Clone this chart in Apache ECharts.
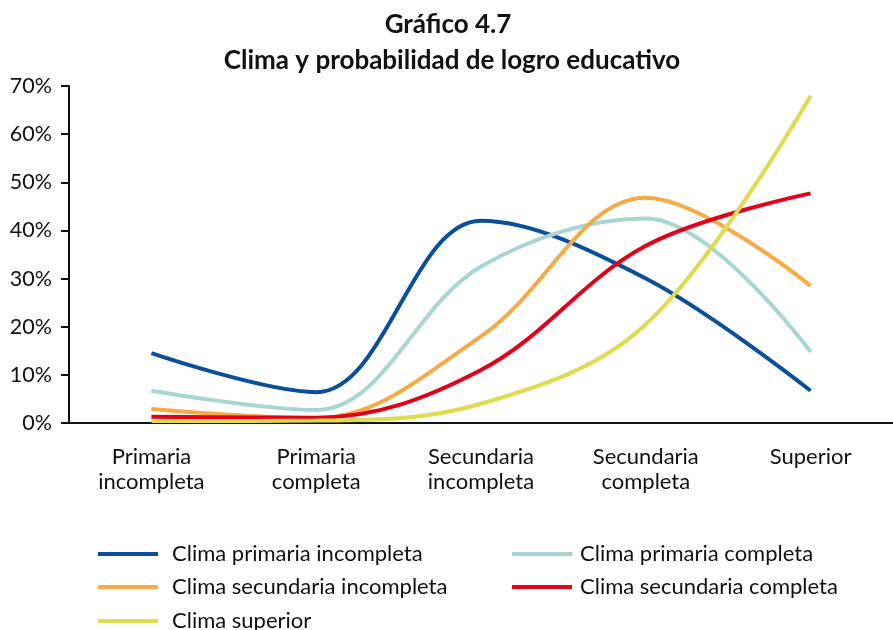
<!DOCTYPE html>
<html>
<head>
<meta charset="utf-8">
<script src="https://cdn.jsdelivr.net/npm/echarts@6/dist/echarts.min.js"></script>
<style>
  html, body { margin: 0; padding: 0; background: #fff; }
  #main { width: 893px; height: 630px; }
</style>
</head>
<body>
<div id="main"></div>
<script>
// categories on the x axis
const categories = [
  "Primaria\nincompleta",
  "Primaria\ncompleta",
  "Secundaria\nincompleta",
  "Secundaria\ncompleta",
  "Superior",
];

// probabilities, in percent
const primariaIncompleta = [14.5, 6.4, 42, 30, 6.7];
const primariaCompleta = [6.7, 2.7, 32.5, 42.5, 14.8];
const secundariaIncompleta = [2.9, 1, 18, 46.8, 28.5];
const secundariaCompleta = [1.3, 1.1, 11, 36.8, 47.7];
const superior = [0.4, 0.5, 4, 20.5, 68];

const yTicks = [0, 10, 20, 30, 40, 50, 60, 70];

const font = "Lato, 'Open Sans', sans-serif";

const chart = echarts.init(document.getElementById("main"));

function line(name, data, color) {
  return {
    name: name,
    type: "line",
    data: data,
    smooth: 0.36,
    showSymbol: false,
    symbol: "none",
    lineStyle: { width: 4, color: color },
    itemStyle: { color: color },
  };
}

// one legend block per column (and one for the last row)
function legendBlock(left, top, pad, names) {
  return {
    orient: "vertical",
    left: left,
    top: top,
    itemWidth: 60,
    itemHeight: 4,
    itemGap: 11,
    icon: "rect",
    textStyle: {
      fontFamily: font,
      fontSize: 22,
      color: "#111",
      padding: [0, 0, 0, pad],
    },
    data: names,
  };
}

const option = {
  animation: false,
  grid: {
    left: 69,
    right: -11,
    top: 86,
    bottom: 207,
  },
  legend: [
    legendBlock(93, 538, 9, ["Clima primaria incompleta", "Clima secundaria incompleta"]),
    legendBlock(93, 605, 9, ["Clima superior"]),
    legendBlock(507, 538, 3, ["Clima primaria completa", "Clima secundaria completa"]),
  ],
  xAxis: {
    type: "category",
    data: categories,
    boundaryGap: true,
    axisLine: { lineStyle: { color: "#111", width: 2 } },
    axisTick: { length: 8, lineStyle: { color: "#111", width: 2 } },
    axisLabel: {
      interval: 0,
      margin: 21,
      fontFamily: font,
      fontSize: 22,
      lineHeight: 25,
      color: "#111",
      verticalAlign: "top",
    },
    splitLine: { show: false },
  },
  yAxis: {
    type: "value",
    min: yTicks[0],
    max: yTicks[yTicks.length - 1],
    interval: 10,
    axisLine: { show: true, lineStyle: { color: "#111", width: 2 } },
    axisTick: { show: true, length: 8, lineStyle: { color: "#111", width: 2 } },
    axisLabel: {
      margin: 17,
      fontFamily: font,
      fontSize: 21.5,
      color: "#111",
      formatter: (v) => v + "%",
    },
    splitLine: { show: false },
  },
  // title, two centred lines
  graphic: [
    {
      type: "text",
      x: 448,
      y: 25,
      style: {
        text: "Gráfico 4.7",
        font: "bold 26px " + font,
        fill: "#111",
        textAlign: "center",
        textVerticalAlign: "middle",
      },
    },
    {
      type: "text",
      x: 452,
      y: 61,
      style: {
        text: "Clima y probabilidad de logro educativo",
        font: "bold 26px " + font,
        fill: "#111",
        textAlign: "center",
        textVerticalAlign: "middle",
      },
    },
  ],
  series: [
    line("Clima primaria incompleta", primariaIncompleta, "#0a4f9a"),
    line("Clima primaria completa", primariaCompleta, "#a8d4d1"),
    line("Clima secundaria incompleta", secundariaIncompleta, "#f6aa45"),
    line("Clima secundaria completa", secundariaCompleta, "#e2001a"),
    line("Clima superior", superior, "#dcdc4e"),
  ],
};

chart.setOption(option);
</script>
</body>
</html>
